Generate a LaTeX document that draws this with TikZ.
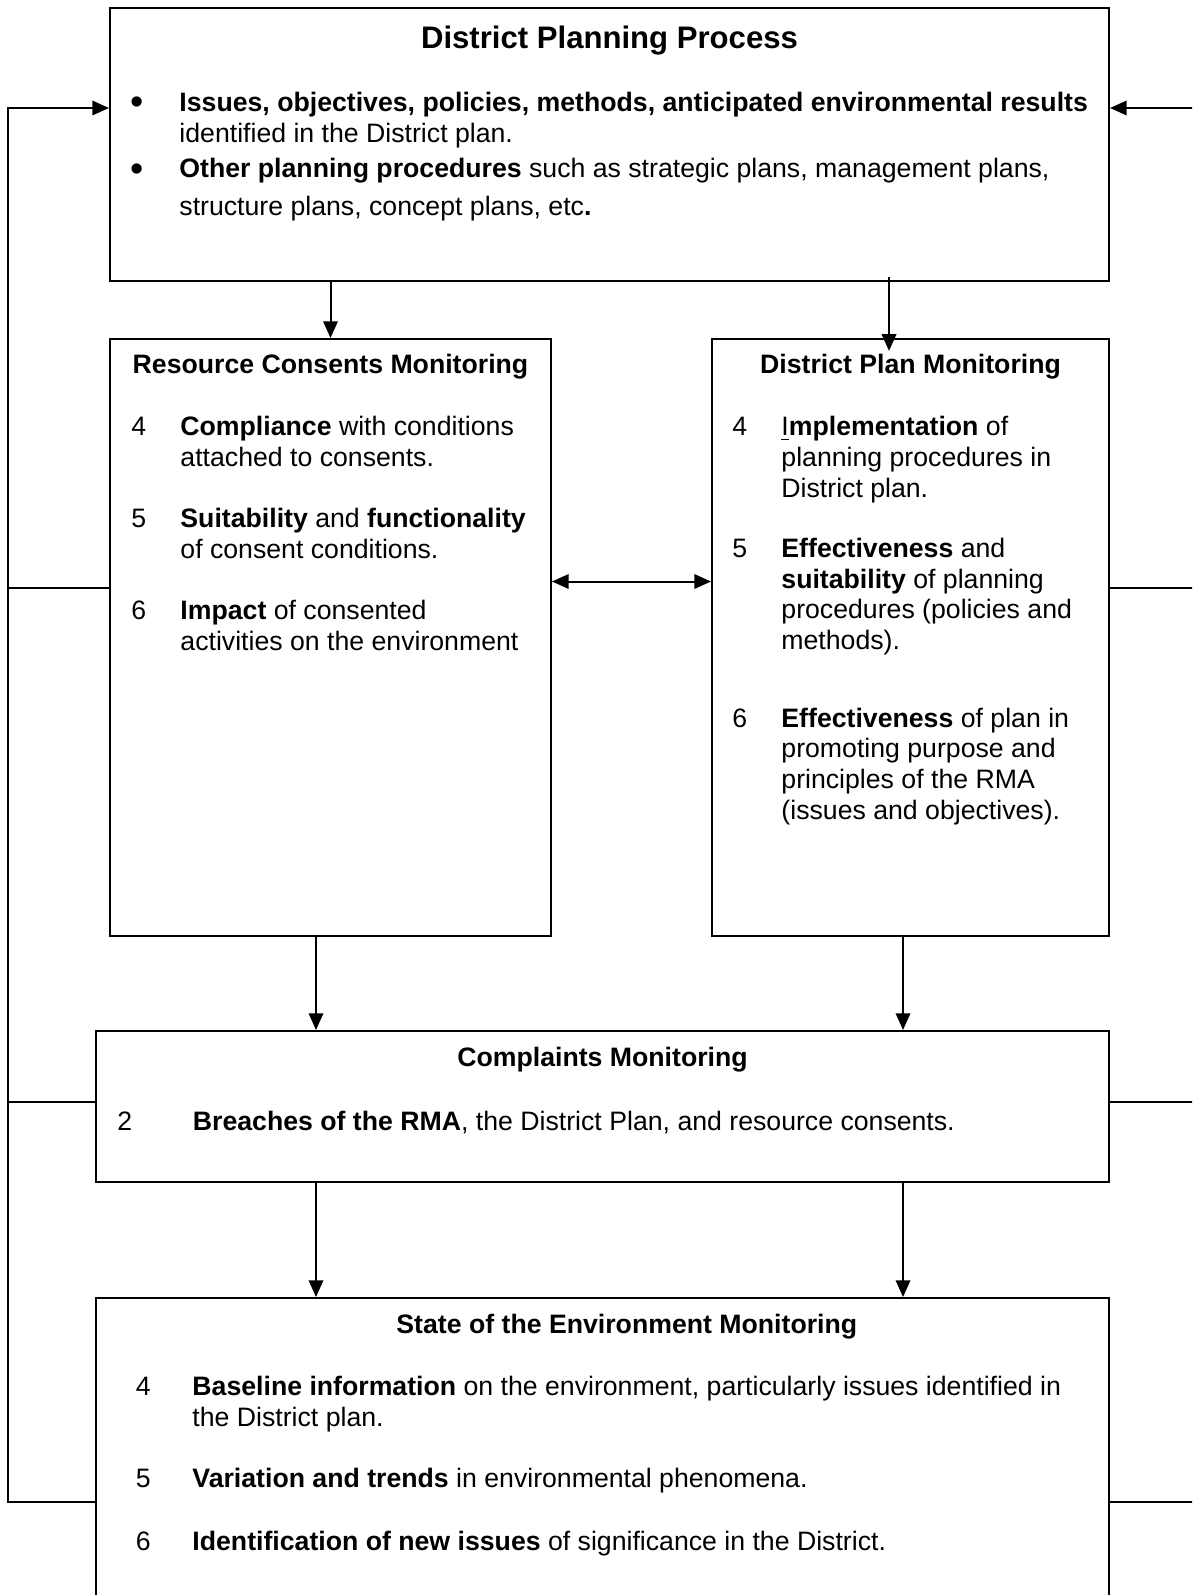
\documentclass[tikz,border=0pt]{standalone}
\usepackage{fontspec}
\setmainfont{Liberation Sans}
\usetikzlibrary{arrows.meta,fit}
\begin{document}
\begin{tikzpicture}[x=0.45pt,y=-0.45pt,
  boxnode/.style={draw, line width=0.9pt, inner sep=0pt},
  txt/.style={anchor=base west, inner sep=0pt, font=\fontsize{12}{14}\selectfont},
  bul/.style={anchor=center, inner sep=0pt, font=\fontsize{17}{17}\selectfont},
  hdr/.style={anchor=base, inner sep=0pt, font=\fontsize{12}{14}\selectfont\bfseries},
  ttl/.style={anchor=base, inner sep=0pt, font=\fontsize{14}{17}\selectfont\bfseries},
  ln/.style={line width=0.9pt},
  arr/.style={line width=0.9pt, -{Triangle[length=7.5pt,width=6.5pt]}},
  dbl/.style={line width=0.9pt, {Triangle[length=7.5pt,width=6.5pt]}-{Triangle[length=7.5pt,width=6.5pt]}}
]
\useasboundingbox (0,0) rectangle (1192,1595);
\clip (0,0) rectangle (1192,1595);

% boxes
\node[boxnode, fit={(110,8) (1109,281)}] (top) {};
\node[boxnode, fit={(110,339) (551,936)}] (rcm) {};
\node[boxnode, fit={(712,339) (1109,936)}] (dpm) {};
\node[boxnode, fit={(96,1031) (1109,1182)}] (comp) {};
\node[boxnode, fit={(96,1298) (1109,1660)}] (soe) {};

% helper coordinates
\coordinate (L) at (8,0);
\coordinate (R) at (1205,0);
\coordinate (yTop) at (0,108);
\coordinate (yRcm) at (0,587.5);
\coordinate (yDbl) at (0,581.5);
\coordinate (yComp) at (0,1101.5);
\coordinate (ySoe) at (0,1502);
\coordinate (xb) at (889,0);
\coordinate (xc) at (316,0);
\coordinate (xd) at (903,0);

% top box text
\node[ttl] (ttop) at (609.5,49) {District Planning Process};
\node[bul] (b1) at (137.3,105.7) {•};
\node[txt] (t1a) at (179,112) {\textbf{Issues, objectives, policies, methods, anticipated environmental results}};
\node[txt] (t1b) at (179,142.5) {identified in the District plan.};
\node[bul] (b2) at (137.3,172.3) {•};
\node[txt] (t2a) at (179,178) {\textbf{Other planning procedures} such as strategic plans, management plans,};
\node[txt] (t2b) at (179,216) {structure plans, concept plans, etc\textbf{.}};

% resource consents monitoring
\node[hdr] (trcm) at (330.5,373.5) {Resource Consents Monitoring};
\node[txt] (r4) at (131,436) {4};
\node[txt] (r4a) at (180,436) {\textbf{Compliance} with conditions};
\node[txt] (r4b) at (180,466.5) {attached to consents.};
\node[txt] (r5) at (131,527.5) {5};
\node[txt] (r5a) at (180,527.5) {\textbf{Suitability} and \textbf{functionality}};
\node[txt] (r5b) at (180,558) {of consent conditions.};
\node[txt] (r6) at (131,619) {6};
\node[txt] (r6a) at (180,619) {\textbf{Impact} of consented};
\node[txt] (r6b) at (180,650) {activities on the environment};

% district plan monitoring
\node[hdr] (tdpm) at (910.5,373.5) {District Plan Monitoring};
\node[txt] (d4) at (732,436) {4};
\node[txt] (d4a) at (781,436) {\underline{I}\textbf{mplementation} of};
\node[txt] (d4b) at (781,466.5) {planning procedures in};
\node[txt] (d4c) at (781,497) {District plan.};
\node[txt] (d5) at (732,557.5) {5};
\node[txt] (d5a) at (781,557.5) {\textbf{Effectiveness} and};
\node[txt] (d5b) at (781,588) {\textbf{suitability} of planning};
\node[txt] (d5c) at (781,618.5) {procedures (policies and};
\node[txt] (d5d) at (781,649.5) {methods).};
\node[txt] (d6) at (732,727) {6};
\node[txt] (d6a) at (781,727) {\textbf{Effectiveness} of plan in};
\node[txt] (d6b) at (781,757.5) {promoting purpose and};
\node[txt] (d6c) at (781,788.5) {principles of the RMA};
\node[txt] (d6d) at (781,819.5) {(issues and objectives).};

% complaints monitoring
\node[hdr] (tcomp) at (602.5,1066.5) {Complaints Monitoring};
\node[txt] (c2) at (117,1130) {2};
\node[txt] (c2a) at (192.5,1130) {\textbf{Breaches of the RMA}, the District Plan, and resource consents.};

% state of the environment monitoring
\node[txt, font=\fontsize{12}{14}\selectfont\bfseries] (tsoe) at (396,1333) {State of the Environment Monitoring};
\node[txt] (s4) at (135.5,1395) {4};
\node[txt] (s4a) at (192,1395) {\textbf{Baseline information} on the environment, particularly issues identified in};
\node[txt] (s4b) at (192,1426) {the District plan.};
\node[txt] (s5) at (135.5,1487) {5};
\node[txt] (s5a) at (192,1487) {\textbf{Variation and trends} in environmental phenomena.};
\node[txt] (s6) at (135.5,1550) {6};
\node[txt] (s6a) at (192,1550) {\textbf{Identification of new issues} of significance in the District.};

% downward connectors
\draw[arr] (top.south -| rcm.north) -- (rcm.north);
\draw[arr, shorten <=-2.2pt, shorten >=-5.8pt] (top.south -| xb) -- (dpm.north -| xb);
\draw[arr] (rcm.south -| xc) -- (comp.north -| xc);
\draw[arr] (dpm.south -| xd) -- (comp.north -| xd);
\draw[arr] (comp.south -| xc) -- (soe.north -| xc);
\draw[arr] (comp.south -| xd) -- (soe.north -| xd);
\draw[dbl] (rcm.east |- yDbl) -- (dpm.west |- yDbl);

% left feedback loop
\draw[arr] (soe.west |- ySoe) -| (L |- yTop) -- (top.west |- yTop);
\draw[ln] (rcm.west |- yRcm) -- (L |- yRcm);
\draw[ln] (comp.west |- yComp) -- (L |- yComp);

% right feedback loop
\draw[arr] (soe.east |- ySoe) -| (R |- yTop) -- (top.east |- yTop);
\draw[ln] (dpm.east |- yRcm) -- (R |- yRcm);
\draw[ln] (comp.east |- yComp) -- (R |- yComp);
\end{tikzpicture}
\end{document}
